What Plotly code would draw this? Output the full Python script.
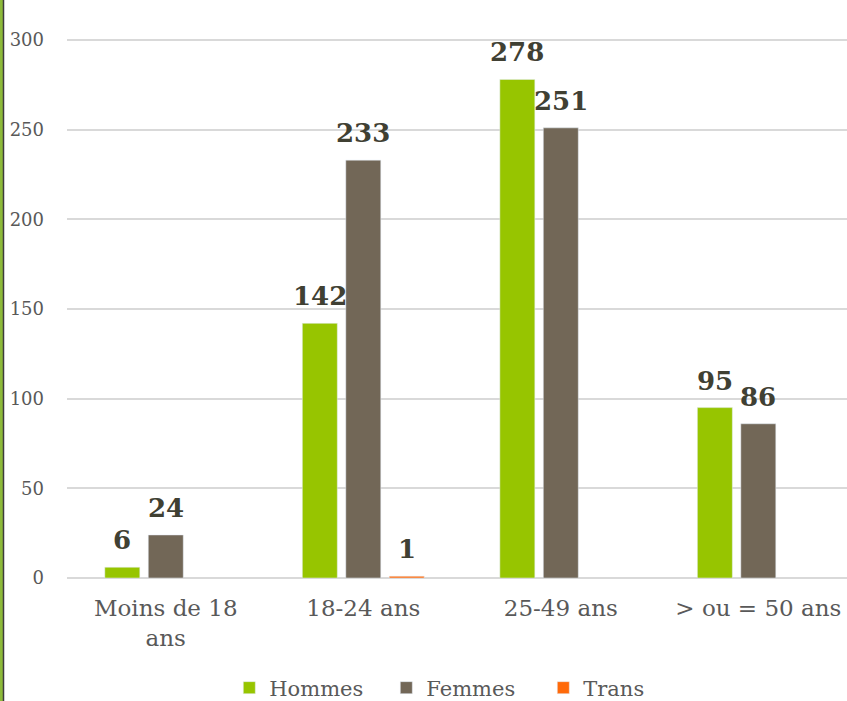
import plotly.graph_objects as go

categories = ["Moins de 18<br>ans", "18-24 ans", "25-49 ans", "> ou = 50 ans"]
hommes = [6, 142, 278, 95]
femmes = [24, 233, 251, 86]
trans = [None, 1, None, None]

series = [("Hommes", hommes, "#97C500"), ("Femmes", femmes, "#726757"), ("Trans", trans, "#FF6A0A")]

SERIF = "DejaVu Serif"
fig = go.Figure()
annotations = []
slot_px = 43.5
for i, (name, vals, col) in enumerate(series):
    fig.add_trace(go.Bar(name=name, x=categories, y=vals, marker_color=col))
    for c, v in zip(categories, vals):
        if v is None:
            continue
        annotations.append(dict(
            x=c, y=v, xref="x", yref="y", text=str(v), showarrow=False,
            xanchor="center", yanchor="bottom", xshift=(i - 1) * slot_px, yshift=10,
            font=dict(family=SERIF, size=26, color="#404033", weight="bold"),
        ))

PLOT_H = 540
fig.update_layout(
    width=847, height=701,
    margin=dict(l=67, r=0, t=38, b=123, autoexpand=False),
    paper_bgcolor="white", plot_bgcolor="white",
    barmode="group", bargap=0.34, bargroupgap=0.195,
    font=dict(family=SERIF, color="#595959"),
    showlegend=True,
    legend=dict(orientation="h", x=0.51, xanchor="center", y=-110 / PLOT_H, yanchor="middle",
                font=dict(family=SERIF, size=21, color="#595959"), traceorder="normal",
                entrywidth=112, entrywidthmode="pixels"),
    xaxis=dict(range=[-0.5, 3.449], tickfont=dict(family=SERIF, size=23, color="#595959"),
               showline=False, ticks="", automargin=False, ticklabelstandoff=14),
    yaxis=dict(range=[0, 301.1], dtick=50, showgrid=True, gridcolor="#D9D9D9", gridwidth=1.5,
               zeroline=True, zerolinecolor="#D9D9D9", zerolinewidth=2, automargin=False,
               tickfont=dict(family=SERIF, size=18, color="#595959"), ticks="", ticklabelstandoff=22),
    annotations=annotations,
    shapes=[
        dict(type="rect", xref="paper", yref="paper", x0=-67/780, x1=-64/780,
             y0=-0.23, y1=1.08, fillcolor="#8DBA3A", line=dict(width=0), layer="above"),
        dict(type="line", xref="paper", yref="paper", x0=-63.5/780, x1=-63.5/780,
             y0=-0.23, y1=1.08, line=dict(color="#3C3C3C", width=1.5), layer="above"),
    ],
)

fig.write_html("out.html", config={"displayModeBar": False},
               post_script="document.body.style.margin='0';document.body.style.overflow='hidden';")
